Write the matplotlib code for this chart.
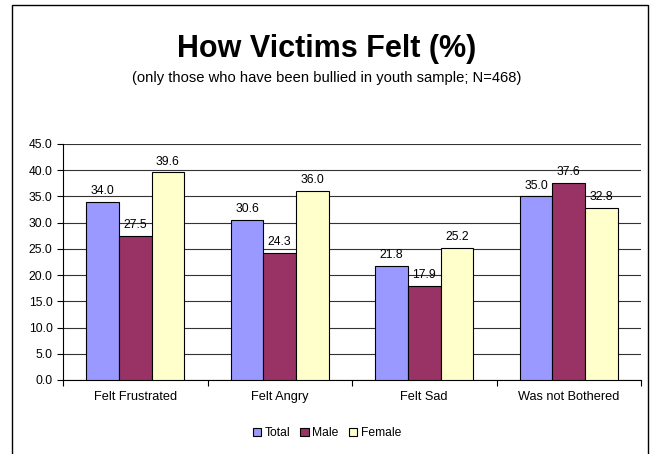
import matplotlib
matplotlib.use("Agg")
import matplotlib.pyplot as plt
from matplotlib.patches import Rectangle
import numpy as np

plt.rcParams['font.family'] = ['Liberation Sans', 'DejaVu Sans']

categories = ["Felt Frustrated", "Felt Angry", "Felt Sad", "Was not Bothered"]
series_names = ["Total", "Male", "Female"]
total = [34.0, 30.6, 21.8, 35.0]
male = [27.5, 24.3, 17.9, 37.6]
female = [39.6, 36.0, 25.2, 32.8]
yticks = [0, 5, 10, 15, 20, 25, 30, 35, 40, 45]
colors = ["#9999FF", "#993366", "#FFFFCC"]

fig = plt.figure(figsize=(6.54, 4.54), dpi=100)
fig.patch.set_facecolor("white")

# frame border
fig.add_artist(Rectangle((12/654, -0.01), (648-12)/654, 1 - 5/454 + 0.01,
                         transform=fig.transFigure, fill=False, edgecolor="black", lw=1))

ax = fig.add_axes([63/654, 1 - 380/454, (641-63)/654, (380-144)/454])

x = np.arange(len(categories))
w = 0.225
data = [total, male, female]
for i, (vals, c, name) in enumerate(zip(data, colors, series_names)):
    pos = x + (i - 1) * w
    ax.bar(pos, vals, w, color=c, edgecolor="black", linewidth=0.8, label=name, zorder=3)
    for p, v in zip(pos, vals):
        ax.text(p, v + 0.9, f"{v:.1f}", ha="center", va="bottom", fontsize=8.7, zorder=4)

ax.set_xlim(-0.5, len(categories) - 0.5)
ax.set_ylim(0, 45)
ax.set_yticks(yticks)
ax.set_yticklabels([f"{t:.1f}" for t in yticks], fontsize=8.7)
ax.set_xticks(np.arange(len(categories) + 1) - 0.5, minor=False)
ax.set_xticklabels([])
ax.set_xticks(x, minor=True)
ax.set_xticklabels(categories, minor=True, fontsize=9.2)
ax.tick_params(axis="x", which="minor", length=0, pad=8)
ax.tick_params(axis="x", which="major", length=4, direction="out", width=0.8)
ax.tick_params(axis="y", length=4, direction="out", width=0.8)
ax.yaxis.grid(True, color="#333333", lw=0.8, zorder=0)
ax.set_axisbelow(True)
for s in ["top", "right"]:
    ax.spines[s].set_visible(False)
ax.spines["left"].set_linewidth(0.8)
ax.spines["bottom"].set_linewidth(0.8)

fig.text(0.5, 1 - 49/454, "How Victims Felt (%)", ha="center", va="center",
         fontsize=22, fontweight="bold")
fig.text(0.5, 1 - 78/454, "(only those who have been bullied in youth sample; N=468)",
         ha="center", va="center", fontsize=10.6)

fig.legend(loc="center", bbox_to_anchor=(0.5, 1 - 433/454), ncol=3, frameon=False,
           fontsize=8.7, handlelength=0.7, handleheight=0.7, handletextpad=0.3,
           columnspacing=0.8)

fig.savefig("out.png", dpi=100)
